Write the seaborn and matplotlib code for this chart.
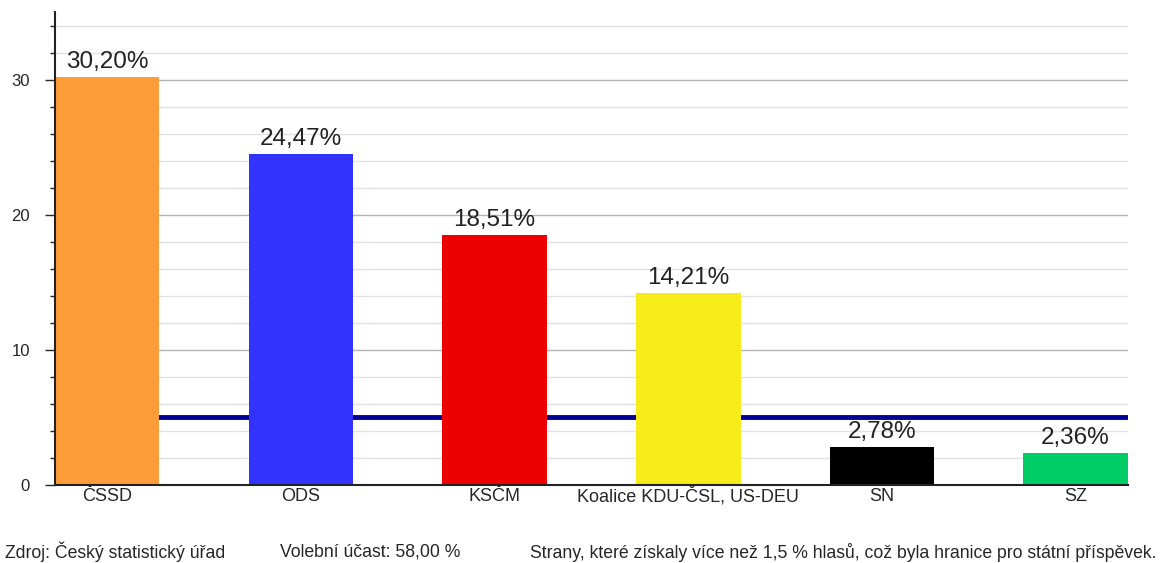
import matplotlib
matplotlib.use("Agg")
import matplotlib.pyplot as plt
import seaborn as sns
import pandas as pd
from matplotlib.ticker import MultipleLocator

parties = ["ČSSD", "ODS", "KSČM", "Koalice KDU-ČSL, US-DEU", "SN", "SZ"]
votes = [30.20, 24.47, 18.51, 14.21, 2.78, 2.36]
labels = ["30,20%", "24,47%", "18,51%", "14,21%", "2,78%", "2,36%"]
colors = ["#FF9C3A", "#3333FF", "#EE0000", "#F5EC1A", "#000000", "#00CC66"]
threshold = 5
footer = ["Zdroj: Český statistický úřad",
          "Volební účast: 58,00 %",
          "Strany, které získaly více než 1,5 % hlasů, což byla hranice pro státní příspěvek."]

sns.set_style("white")
plt.rcParams['font.family'] = ['Liberation Sans', 'DejaVu Sans']

df = pd.DataFrame({"party": parties, "votes": votes})

fig = plt.figure(figsize=(11.67, 5.63), dpi=100)
ax = fig.add_axes([0.047, 0.1385, 0.9195, 0.8402])

ax.set_axisbelow(True)
ax.axhline(threshold, color="#000099", lw=3.5, zorder=1.5)
sns.barplot(data=df, x="party", y="votes", hue="party", palette=colors,
            width=0.54, legend=False, ax=ax, saturation=1, zorder=2)
for p in ax.patches:
    p.set_edgecolor("none")

for i, (v, t) in enumerate(zip(votes, labels)):
    ax.text(i, v + 0.3, t, ha="center", va="bottom", fontsize=17.5,
            color="#222222", zorder=3)

ax.set_xlim(-0.27, 5.27)
ax.set_ylim(0, 35)
ax.yaxis.set_major_locator(MultipleLocator(10))
ax.yaxis.set_minor_locator(MultipleLocator(2))
ax.grid(axis="y", which="major", color="#b4b4b4", lw=1)
ax.grid(axis="y", which="minor", color="#e2e2e2", lw=1)
ax.tick_params(axis="y", which="major", length=7, width=1, labelsize=12, left=True, pad=11)
ax.tick_params(axis="y", which="minor", length=3.6, width=1, left=True)
ax.tick_params(axis="x", length=0, labelsize=13, pad=2)
ax.set_xlabel("")
ax.set_ylabel("")
for s in ["top", "right"]:
    ax.spines[s].set_visible(False)
for s in ["left", "bottom"]:
    ax.spines[s].set_color("#222222")
    ax.spines[s].set_linewidth(1.5)

xs = [5, 280, 530]
for x, t in zip(xs, footer):
    fig.text(x / 1167, 1 - 552 / 563, t, fontsize=12.7, va="center", ha="left")

fig.savefig("out.png", dpi=100)
